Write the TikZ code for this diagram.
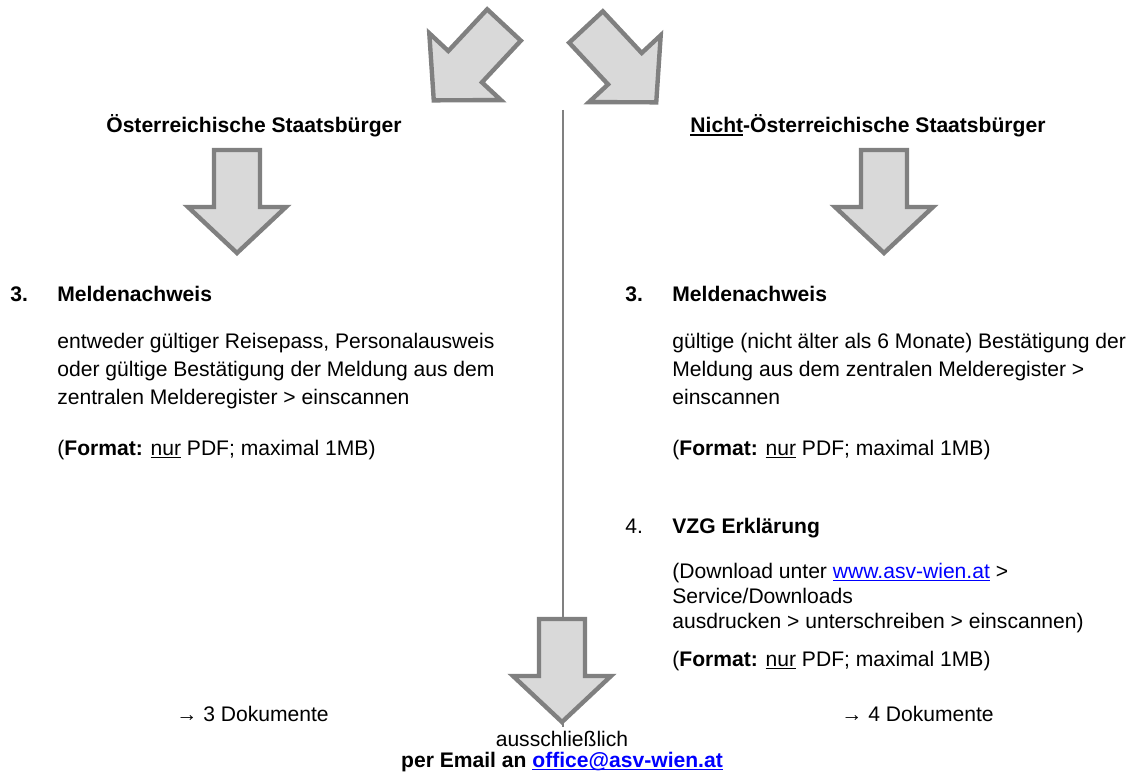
\documentclass[tikz,border=0pt]{standalone}
\usepackage{fontspec}
\setmainfont{Liberation Sans}
\definecolor{arrfill}{HTML}{D9D9D9}
\definecolor{arrline}{HTML}{808080}
\definecolor{linkblue}{HTML}{0000FF}
\newcommand{\ulx}[2][0.8pt]{\setbox0\hbox{#2}\rlap{\raisebox{-1.9pt}{\rule{\wd0}{#1}}}\box0\relax}
\newcommand{\weblink}[1]{\textcolor{linkblue}{\ulx{#1}}}
\tikzset{
  blockarr/.style={draw=arrline, fill=arrfill, line width=2.5pt, miter limit=10},
  downarr/.pic={\path[blockarr] (-23,0) -- (23,0) -- (23,57) -- (49,57) -- (0,103) -- (-49,57) -- (-23,57) -- cycle;},
  txt/.style={anchor=base west, inner sep=0pt, font=\fontsize{12pt}{14pt}\selectfont},
  ctxt/.style={txt, anchor=base},
}
\begin{document}
\begin{tikzpicture}[x=0.02cm, y=-0.02cm]
\useasboundingbox (0,0) rectangle (1139,773);
% Divider between the two columns
\coordinate (lnTop) at (563,110);
\coordinate (lnBot) at (563,727);
\draw[arrline, line width=0.6pt] (lnTop) -- (lnBot);
% Block arrows
\pic[rotate=-43] at (504,25) {downarr};
\pic[rotate=43] at (586,27) {downarr};
\pic at (237,150) {downarr};
\pic at (884,150) {downarr};
\pic at (562,619) {downarr};
% Left column
\node[ctxt] (hdA) at (254,133) {\textbf{Österreichische Staatsbürger}};
\node[txt] (numA) at (10,302) {\textbf{3.}};
\node[txt] (titA) at (57,302) {\textbf{Meldenachweis}};
\node[txt] (txtA1) at (57,349) {entweder gültiger Reisepass, Personalausweis};
\node[txt] (txtA2) at (57,377) {oder gültige Bestätigung der Meldung aus dem};
\node[txt] (txtA3) at (57,404) {zentralen Melderegister > einscannen};
\node[txt] (fmtA) at (57,455) {(\textbf{Format:} \ulx[0.6pt]{nur} PDF; maximal 1MB)};
\node[txt] (docA) at (176,721) {→ 3 Dokumente};
% Right column
\node[ctxt] (hdB) at (868,133) {\textbf{\ulx[1.1pt]{Nicht}-Österreichische Staatsbürger}};
\node[txt] (numB) at (625,302) {\textbf{3.}};
\node[txt] (titB) at (672,302) {\textbf{Meldenachweis}};
\node[txt] (txtB1) at (672,349) {gültige (nicht älter als 6 Monate) Bestätigung der};
\node[txt] (txtB2) at (672,377) {Meldung aus dem zentralen Melderegister >};
\node[txt] (txtB3) at (672,404) {einscannen};
\node[txt] (fmtB) at (672,455) {(\textbf{Format:} \ulx[0.6pt]{nur} PDF; maximal 1MB)};
\node[txt] (numC) at (625,533) {4.};
\node[txt] (titC) at (672,533) {\textbf{VZG Erklärung}};
\node[txt] (txtC1) at (672,578) {(Download unter \weblink{www.asv-wien.at} >};
\node[txt] (txtC2) at (672,603) {Service/Downloads};
\node[txt] (txtC3) at (672,628) {ausdrucken > unterschreiben > einscannen)};
\node[txt] (fmtC) at (672,666) {(\textbf{Format:} \ulx[0.6pt]{nur} PDF; maximal 1MB)};
\node[txt] (docB) at (841,721) {→ 4 Dokumente};
% Bottom
\node[ctxt] (onlyTxt) at (562,746) {ausschließlich};
\node[ctxt] (mailTxt) at (562,767) {\textbf{per Email an \weblink{office@asv-wien.at}}};
\end{tikzpicture}
\end{document}
